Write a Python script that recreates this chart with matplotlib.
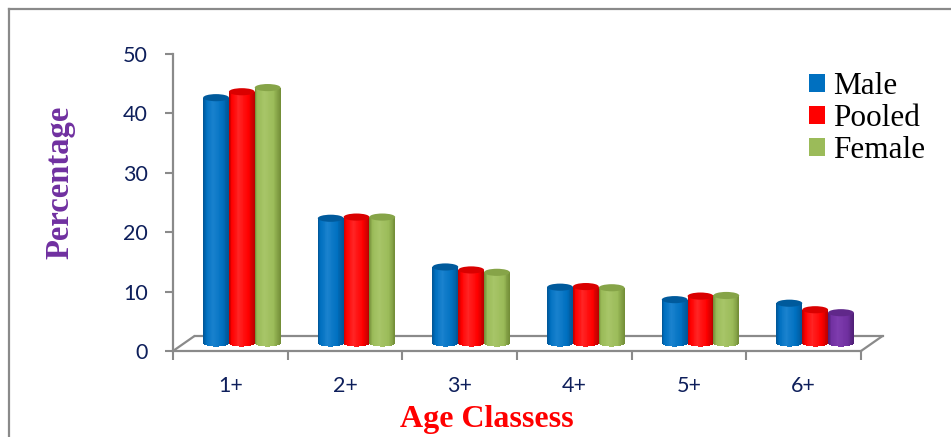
import numpy as np
import matplotlib
matplotlib.use('Agg')
import matplotlib.pyplot as plt
from matplotlib.colors import LinearSegmentedColormap
from matplotlib.patches import Ellipse, Patch, ConnectionPatch
from matplotlib.transforms import ScaledTranslation
from matplotlib.lines import Line2D

# percentage of fish in each age class
ages = ['1+', '2+', '3+', '4+', '5+', '6+']
male = [41.3, 21.0, 12.8, 9.4, 7.3, 6.7]
pooled = [42.3, 21.2, 12.3, 9.5, 7.9, 5.6]
female = [43.0, 21.2, 11.9, 9.3, 8.0, 5.1]
seriesNames = ['Male', 'Pooled', 'Female']

# cylinder shading: (dark edge, body, highlight, top cap)
blueShade = ('#005494', '#0070C0', '#1A82CE', '#005A9C')
redShade = ('#B80000', '#FF0000', '#FF2424', '#DA0000')
greenShade = ('#718C36', '#9BBB59', '#A7C568', '#86A448')
purpleShade = ('#4E1F74', '#7030A0', '#7E3CAE', '#60288A')

axisGray = '#8A8A8A'
tickBlue = '#0E1F5B'


def cylinder(ax, xc, value, width, shade, trans, z, capH=1.2, n=30):
    dark, body, light, top = shade
    cmap = LinearSegmentedColormap.from_list(
        'cyl', [(0, dark), (0.12, body), (0.38, light), (0.75, body), (1, dark)])
    edges = np.linspace(xc - width / 2, xc + width / 2, n + 1)
    mids = (edges[:-1] + edges[1:]) / 2
    u = (mids - edges[0]) / width
    # rounded bottom of the cylinder
    drop = capH / 2 * np.sqrt(np.clip(1 - (2 * u - 1) ** 2, 0, 1))
    ax.bar(mids, np.full(n, value) + drop, bottom=-drop, width=width / n * 1.15,
           color=cmap(u), linewidth=0, transform=trans, zorder=z)
    ax.add_patch(Ellipse((xc, value), width, capH, facecolor=top,
                         edgecolor='none', transform=trans, zorder=z + 0.5))


fig = plt.figure(figsize=(9.51, 4.37), dpi=100)
ax = fig.add_axes([173 / 951, 86 / 437, 688 / 951, 297 / 437])
ax.set_xlim(0, 6)
ax.set_ylim(0, 50)
ax.patch.set_alpha(0)

# bars sit half way back on the floor
barShift = ax.transData + ScaledTranslation(0.115, 0.08, fig.dpi_scale_trans)
floorBack = ax.transData + ScaledTranslation(0.215, 0.15, fig.dpi_scale_trans)

barW = 0.225
centers = np.arange(len(ages)) + 0.5
for i, c in enumerate(centers):
    cylinder(ax, c - barW, male[i], barW, blueShade, barShift, 3)
    cylinder(ax, c, pooled[i], barW, redShade, barShift, 4)
    # last age class drawn in purple
    fShade = purpleShade if i == len(ages) - 1 else greenShade
    cylinder(ax, c + barW, female[i], barW, fShade, barShift, 5)

# floor of the 3d plot area
ax.plot([0, 6], [0, 0], transform=floorBack, color=axisGray, lw=1.6,
        clip_on=False, zorder=1)
for x in (0, 6):
    ax.add_artist(ConnectionPatch((x, 0), (x, 0), coordsA=ax.transData,
                                  coordsB=floorBack, color=axisGray, lw=1.6,
                                  clip_on=False, zorder=1))

for side in ('top', 'right'):
    ax.spines[side].set_visible(False)
for side in ('left', 'bottom'):
    ax.spines[side].set_color(axisGray)
    ax.spines[side].set_linewidth(1.6)

ax.set_yticks(range(0, 51, 10))
ax.tick_params(axis='y', direction='out', length=6, width=1.5, color=axisGray,
               pad=12, labelsize=15.5, labelcolor=tickBlue)
ax.set_xticks(range(0, 7))
ax.set_xticklabels([])
ax.set_xticks(centers, minor=True)
ax.set_xticklabels(ages, minor=True)
ax.tick_params(axis='x', which='major', direction='out', length=6.5, width=1.5,
               color=axisGray)
ax.tick_params(axis='x', which='minor', length=0, pad=18, labelsize=15.5,
               labelcolor=tickBlue)
for lab in ax.get_yticklabels() + ax.get_xticklabels(minor=True):
    lab.set_family('Lato')

fig.text(60 / 951, 1 - 182 / 437, 'Percentage', rotation=90, ha='center',
         va='center', color='#7030A0', fontsize=23.5, fontweight='bold',
         family='Liberation Serif')
fig.text(487 / 951, 1 - 427 / 437, 'Age Classess', ha='center', va='baseline',
         color='#FF0000', fontsize=23, fontweight='bold',
         family='Liberation Serif')

handles = [Patch(facecolor=s[1]) for s in (blueShade, redShade, greenShade)]
fig.legend(handles, seriesNames, loc='upper left',
           bbox_to_anchor=(809 / 951, 1 - 72 / 437), frameon=False,
           prop={'family': 'Liberation Serif', 'size': 22.5},
           handlelength=0.5, handleheight=0.5, handletextpad=0.28,
           labelspacing=0.1, borderpad=0, borderaxespad=0)

# chart border
fig.add_artist(Line2D([9 / 951, 9 / 951], [0, 1 - 9 / 437], color=axisGray, lw=1.6))
fig.add_artist(Line2D([9 / 951, 1], [1 - 9 / 437, 1 - 9 / 437], color=axisGray, lw=1.6))

fig.savefig('out.png', dpi=100)
